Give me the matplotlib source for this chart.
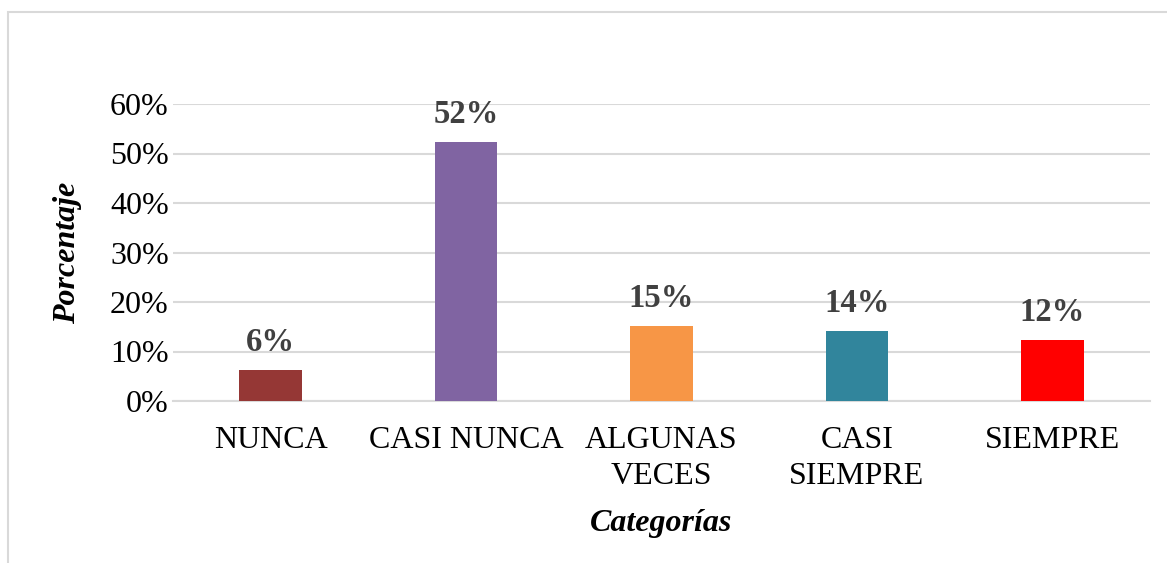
import matplotlib.pyplot as plt
from matplotlib.patches import Rectangle
from matplotlib.ticker import PercentFormatter

categories = ["NUNCA", "CASI NUNCA", "ALGUNAS\nVECES", "CASI\nSIEMPRE", "SIEMPRE"]
values = [0.062, 0.523, 0.151, 0.142, 0.124]
labels = ["6%", "52%", "15%", "14%", "12%"]
colors = ["#953735", "#8064a2", "#f79646", "#31859c", "#ff0000"]
yticks = [0, 0.1, 0.2, 0.3, 0.4, 0.5, 0.6]

plt.rcParams["font.family"] = ["Liberation Serif", "DejaVu Serif"]

fig = plt.figure(figsize=(11.67, 5.63), dpi=100)
# outer chart frame
fig.patches.append(Rectangle((8 / 1167, -0.1), 1.2, (563 - 12) / 563 + 0.1,
                             transform=fig.transFigure, fill=False,
                             edgecolor="#d9d9d9", linewidth=1.5))

ax = fig.add_axes([173 / 1167, (563 - 401) / 563, (1150 - 173) / 1167, (401 - 104) / 563])
x = range(len(categories))
bars = ax.bar(x, values, width=0.32, color=colors, zorder=3)

for bar, lab in zip(bars, labels):
    ax.text(bar.get_x() + bar.get_width() / 2, bar.get_height() + 0.024, lab,
            ha="center", va="bottom", fontsize=23.5, fontweight="bold", color="#404040")

ax.set_xlim(-0.5, len(categories) - 0.5)
ax.set_ylim(0, 0.6)
ax.set_yticks(yticks)
ax.yaxis.set_major_formatter(PercentFormatter(1.0, decimals=0))
ax.set_xticks(list(x))
ax.set_xticklabels(categories, fontsize=23, linespacing=1.3)
ax.tick_params(axis="y", labelsize=23, length=0, pad=3)
ax.tick_params(axis="x", length=0, pad=18)

ax.grid(axis="y", color="#d9d9d9", linewidth=1.5, zorder=0)
for s in ["top", "right", "left"]:
    ax.spines[s].set_visible(False)
ax.spines["bottom"].set_color("#d9d9d9")
ax.spines["bottom"].set_linewidth(1.5)

ax.set_ylabel("Porcentaje", fontsize=23, fontweight="bold", fontstyle="italic", labelpad=20)
ax.set_xlabel("Categorías", fontsize=23, fontweight="bold", fontstyle="italic", labelpad=13)

fig.savefig("out.png", dpi=100)
